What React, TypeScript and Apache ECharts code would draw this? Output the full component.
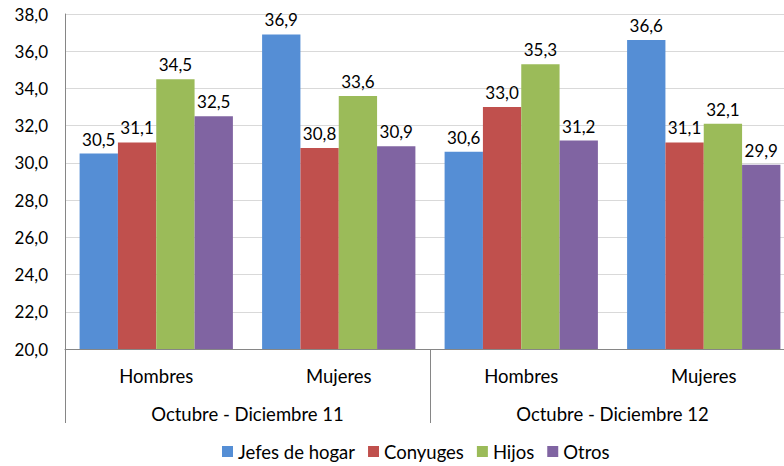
import React, { useEffect, useRef } from "react";
import * as echarts from "echarts";

const subCategories = ["Hombres", "Mujeres", "Hombres", "Mujeres"];
const periods = ["Octubre - Diciembre 11", "Octubre - Diciembre 12"];
const seriesNames = ["Jefes de hogar", "Conyuges", "Hijos", "Otros"];
const jefes = [30.5, 36.9, 30.6, 36.6];
const conyuges = [31.1, 30.8, 33.0, 31.1];
const hijos = [34.5, 33.6, 35.3, 32.1];
const otros = [32.5, 30.9, 31.2, 29.9];
const colors = ["#558ED5", "#C0504D", "#9BBB59", "#8064A2"];

const FONT = "Lato";
const FS_TEXT = 18.5;
const FS_NUM = 17;

export default function App() {
  const ref = useRef<HTMLDivElement>(null);
  useEffect(() => {
    document.body.style.margin = "0";
    document.body.style.overflow = "hidden";
    const chart = echarts.init(ref.current!, null, { renderer: "svg" });
    const fmt = (v: number) => v.toFixed(1).replace(".", ",");
    const values = [jefes, conyuges, hijos, otros];
    chart.setOption({
      animation: false,
      backgroundColor: "#fff",
      textStyle: { fontFamily: FONT },
      color: colors,
      grid: { left: 65, right: 0, top: 14, bottom: 117, containLabel: false },
      legend: {
        bottom: 0,
        left: 217,
        itemWidth: 11,
        itemHeight: 11,
        itemGap: 13,
        icon: "rect",
        textStyle: { fontFamily: FONT, fontSize: FS_TEXT, color: "#000" },
        data: seriesNames,
      },
      xAxis: [
        {
          type: "category",
          data: subCategories,
          position: "bottom",
          axisLine: { lineStyle: { color: "#868686" } },
          axisTick: { show: false },
          axisLabel: { fontFamily: FONT, fontSize: FS_TEXT, color: "#000", margin: 17 },
        },
        {
          type: "category",
          data: periods,
          position: "bottom",
          axisLine: { show: false },
          axisTick: { show: true, length: 74, interval: 0, lineStyle: { color: "#868686" } },
          axisLabel: { fontFamily: FONT, fontSize: FS_TEXT, color: "#000", margin: 55 },
        },
      ],
      yAxis: {
        type: "value",
        min: 20,
        max: 38,
        interval: 2,
        axisLine: { show: true, lineStyle: { color: "#868686" } },
        axisTick: { show: false },
        splitLine: { lineStyle: { color: "#D9D9D9" } },
        axisLabel: {
          fontFamily: FONT,
          fontSize: FS_NUM,
          color: "#000",
          margin: 17,
          formatter: (v: number) => fmt(v),
        },
      },
      series: seriesNames.map((name, i) => ({
        name,
        type: "bar",
        xAxisIndex: 0,
        data: values[i],
        barGap: "0%",
        barCategoryGap: "16%",
        itemStyle: { color: colors[i] },
        label: {
          show: true,
          position: "top",
          distance: 6,
          fontFamily: FONT,
          fontSize: FS_NUM,
          color: "#000",
          formatter: (p: any) => fmt(p.value),
        },
      })),
    });
    return () => chart.dispose();
  }, []);
  return (
    <div
      ref={ref}
      style={{ position: "absolute", left: 0, top: 0, width: 795, height: 466 }}
    />
  );
}
